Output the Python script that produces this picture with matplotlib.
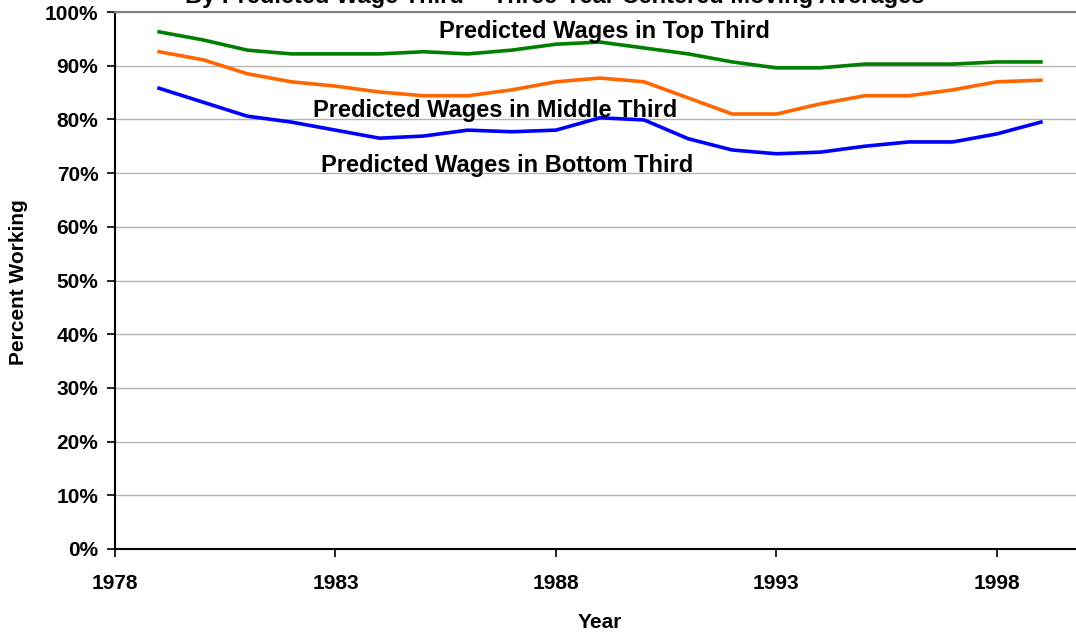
import matplotlib

matplotlib.use("Agg")

import matplotlib.pyplot as plt
from matplotlib.ticker import FuncFormatter, MultipleLocator

plt.rcParams["font.family"] = ["Liberation Sans", "DejaVu Sans"]
plt.rcParams["font.weight"] = "bold"

years = list(range(1979, 2000))
top_third = [96.3, 94.8, 92.9, 92.2, 92.2, 92.2, 92.6, 92.2, 92.9, 94.0, 94.4,
             93.3, 92.2, 90.7, 89.6, 89.6, 90.3, 90.3, 90.3, 90.7, 90.7]
middle_third = [92.6, 91.1, 88.5, 87.0, 86.2, 85.1, 84.4, 84.4, 85.5, 87.0, 87.7,
                87.0, 84.0, 81.0, 81.0, 82.9, 84.4, 84.4, 85.5, 87.0, 87.3]
bottom_third = [85.8, 83.2, 80.6, 79.5, 78.0, 76.5, 76.9, 78.0, 77.7, 78.0, 80.3,
                79.9, 76.4, 74.3, 73.6, 73.9, 75.0, 75.8, 75.8, 77.3, 79.5]
tick_years = [1978, 1983, 1988, 1993, 1998]

fig = plt.figure(figsize=(10.76, 6.35), dpi=100)
ax = fig.add_axes([115 / 1076, 1 - 549 / 635, (1085 - 115) / 1076, (549 - 12) / 635])

ax.plot(years, top_third, color="#007f00", linewidth=2.6)
ax.plot(years, middle_third, color="#ff6600", linewidth=2.6)
ax.plot(years, bottom_third, color="#0000ff", linewidth=2.6)

ax.set_xlim(1978, 2000)
ax.set_ylim(0, 100)
ax.set_xticks(tick_years)
ax.yaxis.set_major_locator(MultipleLocator(10))
ax.yaxis.set_major_formatter(FuncFormatter(lambda v, _: f"{v:.0f}%"))
ax.grid(axis="y", color="#b4b4b4", linewidth=1)
ax.set_axisbelow(True)

ax.spines["right"].set_visible(False)
ax.spines["top"].set_color("#808080")
ax.spines["top"].set_linewidth(1.5)
ax.spines["left"].set_linewidth(1.5)
ax.spines["bottom"].set_linewidth(1.5)
ax.tick_params(axis="both", direction="out", length=6, width=1.2, labelsize=15)
ax.tick_params(axis="y", pad=6)
ax.tick_params(axis="x", pad=12)

ax.set_xlabel("Year", fontsize=15, fontweight="bold")
ax.set_ylabel("Percent Working", fontsize=15, fontweight="bold")
ax.xaxis.set_label_coords(0.5, -0.136)
ax.xaxis.label.set_va("center")
ax.yaxis.set_label_coords(-0.099, 0.497)
ax.yaxis.label.set_va("center")

ax.text(1989.1, 96.3, "Predicted Wages in Top Third", fontsize=17, fontweight="bold",
        ha="center", va="center")
ax.text(1982.5, 81.75, "Predicted Wages in Middle Third", fontsize=17, fontweight="bold",
        ha="left", va="center")
ax.text(1982.67, 71.5, "Predicted Wages in Bottom Third", fontsize=17, fontweight="bold",
        ha="left", va="center")

# the reference crops the title at the top edge
fig.text(555 / 1076, 1.006, "By Predicted Wage Third -- Three-Year Centered Moving Averages",
         fontsize=17, fontweight="bold", ha="center", va="center")

fig.savefig("out.png", dpi=100)
